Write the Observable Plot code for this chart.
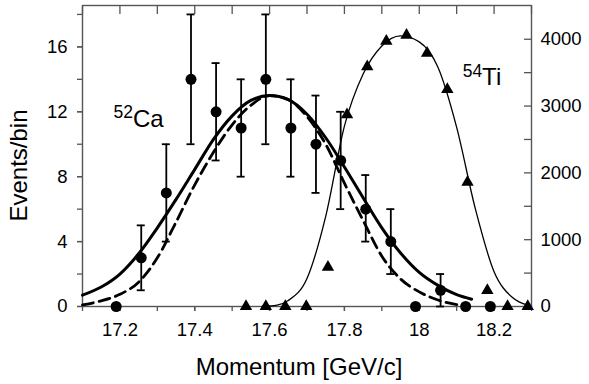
<!DOCTYPE html>
<html><head><meta charset="utf-8">
<script src="https://cdn.jsdelivr.net/npm/d3@7"></script>
<script src="https://cdn.jsdelivr.net/npm/@observablehq/plot@0.6"></script>
<style>body{margin:0;background:#fff}</style>
</head><body><div id="chart"></div>
<script>
// 52Ca data (left axis, Events/bin)
const caX  = [17.19, 17.257, 17.324, 17.39, 17.457, 17.524, 17.59, 17.657, 17.724, 17.79, 17.857, 17.924, 17.99, 18.057, 18.124, 18.19];
const caY  = [0, 3, 7, 14, 12, 11, 14, 11, 10, 9, 6, 4, 0, 1, 0, 0];
const caLo = [null, 1, 4, 10, 9, 8, 10, 8, 7, 6, 4, 2, null, 0, null, null];
const caHi = [null, 5, 10, 18, 15, 14, 18, 14, 13, 12, 8.1, 6, null, 2, null, null];

// 54Ti data (right axis)
const tiX = [17.537, 17.59, 17.642, 17.698, 17.756, 17.807, 17.861, 17.912, 17.966, 18.021, 18.075, 18.129, 18.182, 18.236, 18.29];
const tiY = [0, 0, 0, 0, 590, 2870, 3590, 3970, 4060, 3790, 3250, 1860, 240, 0, 0];

// fit curves
const fitX = [17.10, 17.15, 17.20, 17.25, 17.30, 17.35, 17.40, 17.45, 17.50, 17.55, 17.60, 17.65, 17.70, 17.75, 17.80, 17.85, 17.90, 17.95, 18.00, 18.05, 18.10, 18.14];
const caFitSolid = [0.70, 1.20, 2.00, 3.25, 4.85, 6.60, 8.45, 10.3, 11.75, 12.7, 13.0, 12.75, 11.85, 10.4, 8.6, 6.7, 4.85, 3.3, 2.1, 1.3, 0.73, 0.45];
const dashX = [17.10, 17.15, 17.20, 17.25, 17.30, 17.35, 17.40, 17.45, 17.50, 17.55, 17.60, 17.65, 17.70, 17.75, 17.80, 17.85, 17.90, 17.95, 18.00, 18.05, 18.10, 18.13];
const caFitDash = [0.10, 0.35, 0.75, 1.5, 3.0, 5.2, 7.5, 9.5, 11.2, 12.4, 13.0, 12.75, 11.7, 10.0, 7.6, 5.3, 3.1, 1.7, 0.9, 0.4, 0.12, 0.02];
const tiFitX = [17.58, 17.62, 17.65, 17.70, 17.75, 17.80, 17.85, 17.90, 17.95, 18.00, 18.05, 18.10, 18.15, 18.20, 18.25, 18.29];
const tiFitY = [0, 20, 90, 420, 1350, 2700, 3480, 3900, 4050, 3960, 3580, 2680, 1460, 520, 130, 20];

// ticks
const xMinor = [17.1, 17.2, 17.3, 17.4, 17.5, 17.6, 17.7, 17.8, 17.9, 18.0, 18.1, 18.2, 18.3];
const xMajor = [17.2, 17.4, 17.6, 17.8, 18.0, 18.2];
const yMinor = [0, 2, 4, 6, 8, 10, 12, 14, 16, 18];
const yMajor = [0, 4, 8, 12, 16];
const rMinor = [0, 500, 1000, 1500, 2000, 2500, 3000, 3500, 4000];
const rMajor = [0, 1000, 2000, 3000, 4000];

const yTop = 18.55, rTop = 4505;
const k = yTop / rTop;

const labels = [
  {mass: "52", el: "Ca", x: 17.183, y: 11.07},
  {mass: "54", el: "Ti", x: 18.116, y: 13.63}
];

const ca = caX.map((x, i) => ({x, y: caY[i], lo: caLo[i], hi: caHi[i]}));
const err = ca.filter(d => d.hi != null);
const ti = tiX.map((x, i) => ({x, v: tiY[i]}));
const solid = fitX.map((x, i) => ({x, y: caFitSolid[i]}));
const dash = dashX.map((x, i) => ({x, y: caFitDash[i]}));
const tiFit = tiFitX.map((x, i) => ({x, v: tiFitY[i]}));

const axisColor = "#555";
const font = "'Liberation Sans', Arial, Helvetica, sans-serif";

const plot = Plot.plot({
  width: 589, height: 384,
  marginLeft: 82, marginRight: 58, marginTop: 5, marginBottom: 78,
  style: {fontFamily: font, fontSize: "18.5px", background: "#fff", color: "#000", overflow: "visible"},
  x: {domain: [17.1, 18.3]},
  y: {domain: [0, yTop]},
  marks: [
    Plot.frame({stroke: axisColor, strokeWidth: 1.4}),
    Plot.axisX(xMinor, {anchor: "bottom", tickSize: 5, fill: "none", stroke: axisColor, strokeWidth: 1.3, label: null}),
    Plot.axisX(xMajor, {anchor: "bottom", tickSize: 5, tickPadding: 11, stroke: axisColor, strokeWidth: 1.3, fill: "#000", label: null, tickFormat: d => String(Math.round(d * 10) / 10)}),
    Plot.axisX(xMinor, {anchor: "top", tickSize: -8, fill: "none", stroke: axisColor, strokeWidth: 1.3, label: null}),
    Plot.axisY(yMinor, {anchor: "left", tickSize: 5, fill: "none", stroke: axisColor, strokeWidth: 1.3, label: null}),
    Plot.axisY(yMajor, {anchor: "left", tickSize: 5, tickPadding: 10, stroke: axisColor, strokeWidth: 1.3, fill: "#000", label: null, tickFormat: d => String(d)}),
    Plot.axisY(rMinor.map(v => v * k), {anchor: "right", tickSize: -8, fill: "none", stroke: axisColor, strokeWidth: 1.3, label: null}),
    Plot.axisY(rMajor.map(v => v * k), {anchor: "right", tickSize: 0, tickPadding: 9, fill: "#000", label: null, tickFormat: d => String(Math.round(d / k / 100) * 100)}),
    // fits
    Plot.line(tiFit, {x: "x", y: d => d.v * k, stroke: "#000", strokeWidth: 1.3, curve: "monotone-x"}),
    Plot.line(dash, {x: "x", y: "y", stroke: "#000", strokeWidth: 2.8, strokeDasharray: "11,6", curve: "monotone-x"}),
    Plot.line(solid, {x: "x", y: "y", stroke: "#000", strokeWidth: 3, curve: "monotone-x"}),
    // error bars
    Plot.ruleX(err, {x: "x", y1: "lo", y2: "hi", stroke: "#000", strokeWidth: 1.8}),
    Plot.ruleY(err, {x1: "x", x2: "x", y: "hi", insetLeft: -4, insetRight: -4, stroke: "#000", strokeWidth: 1.8}),
    Plot.ruleY(err, {x1: "x", x2: "x", y: "lo", insetLeft: -4, insetRight: -4, stroke: "#000", strokeWidth: 1.8}),
    // points
    Plot.dot(ca, {x: "x", y: "y", r: 5.5, fill: "#000", stroke: "none"}),
    Plot.dot(ti, {x: "x", y: d => d.v * k, r: 4.6, symbol: "triangle", fill: "#000", stroke: "none"}),
    // isotope labels
    Plot.text(labels, {x: "x", y: "y", text: d => d.mass + d.el, textAnchor: "start", lineAnchor: "bottom", fontSize: 24, fill: "#000"}),
    // axis titles
    Plot.text(["Momentum [GeV/c]"], {frameAnchor: "bottom", dx: -8, dy: 68, lineAnchor: "bottom", textAnchor: "middle", fontSize: 24, fill: "#000"}),
    Plot.text(["Events/bin"], {frameAnchor: "left", dx: -63, dy: 9.5, rotate: -90, textAnchor: "middle", lineAnchor: "middle", fontSize: 24, fill: "#000"})
  ]
});

// superscript mass numbers
const NS = "http://www.w3.org/2000/svg";
plot.querySelectorAll("text").forEach(t => {
  const lab = labels.find(l => t.textContent === l.mass + l.el);
  if (!lab) return;
  t.textContent = "";
  const s1 = document.createElementNS(NS, "tspan");
  s1.setAttribute("font-size", "17.5");
  s1.setAttribute("dy", "-8.5");
  s1.textContent = lab.mass;
  const s2 = document.createElementNS(NS, "tspan");
  s2.setAttribute("dy", "8.5");
  s2.textContent = lab.el;
  t.appendChild(s1);
  t.appendChild(s2);
});

document.getElementById("chart").appendChild(plot);
</script>
</body></html>
